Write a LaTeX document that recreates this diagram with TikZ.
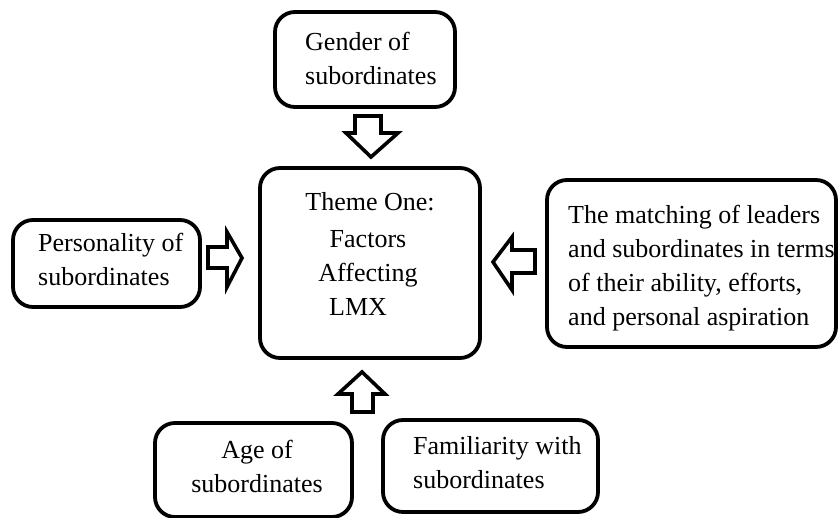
\documentclass[tikz,border=0pt]{standalone}
\usepackage{fontspec}
\setmainfont{Liberation Serif}
\begin{document}
\begin{tikzpicture}[x=1pt,y=-1pt,
  box/.style={draw,line width=3.8pt,rounded corners=20pt,inner sep=0pt},
  txt/.style={font=\fontsize{26}{34}\selectfont,inner sep=0pt},
  blk/.style={draw,line width=3.6pt,line join=miter,fill=white}]
\useasboundingbox (0,0) rectangle (838,518);
% boxes
\node[box,minimum width=180pt,minimum height=95pt] (gender) at (365,59.5) {};
\node[box,minimum width=220pt,minimum height=190pt] (center) at (370,263) {};
\node[box,minimum width=187pt,minimum height=87pt] (pers) at (106.5,263.5) {};
\node[box,minimum width=289pt,minimum height=167pt] (match) at (691.5,263.5) {};
\node[box,minimum width=197pt,minimum height=94pt] (age) at (253.5,470) {};
\node[box,minimum width=215pt,minimum height=92pt] (fam) at (490.5,466) {};
% texts
\node[txt,align=left,anchor=west] (gendert) at (305,58) {Gender of\\subordinates};
\node[txt] (theme) at (370,202) {Theme One:};
\node[txt,align=center] (factors) at (368,273) {Factors\\Affecting\\LMX\hspace*{20pt}};
\node[txt,align=left,anchor=west] (perst) at (38,259.5) {Personality of\\subordinates};
\node[txt,align=left,anchor=west] (matcht) at (568,268.5) {The matching of leaders\\and subordinates in terms\\of their ability, efforts,\\and personal aspiration};
\node[txt,align=center] (aget) at (257,466.5) {Age of\\subordinates};
\node[txt,align=left,anchor=west] (famt) at (413,462.5) {Familiarity with\\subordinates};
% block arrows
\draw[blk] (355,116) -- (381,116) -- (381,133) -- (398,133) -- (371,157) -- (346,133) -- (355,133) -- cycle;
\draw[blk] (208,247) -- (227,247) -- (227,232) -- (242,258) -- (227,287) -- (227,268) -- (208,268) -- cycle;
\draw[blk] (535,250) -- (512,250) -- (512,237) -- (493,262) -- (512,290) -- (512,273) -- (535,273) -- cycle;
\draw[blk] (352,412) -- (352,394) -- (338,394) -- (362,372) -- (385,394) -- (373,394) -- (373,412) -- cycle;
\end{tikzpicture}
\end{document}
